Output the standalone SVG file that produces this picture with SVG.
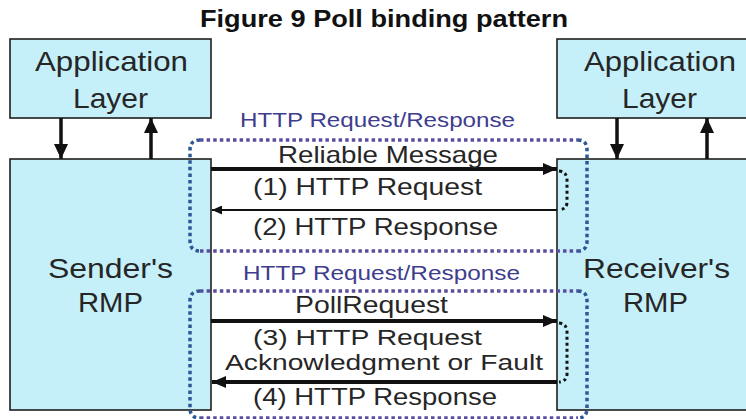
<svg xmlns="http://www.w3.org/2000/svg" width="746" height="419" viewBox="0 0 746 419">
  <style>
    .box { fill: #c5f0f9; stroke: #1e1e1e; stroke-width: 1.6; }
    .lbl { font-family: "Liberation Sans", Arial, sans-serif; fill: #262626; }
    .big { font-size: 28px; }
    .msg { font-size: 24px; }
    .tight { font-size: 22px; }
    .chan { font-family: "Liberation Sans", Arial, sans-serif; font-size: 21px; fill: #3e3d8e; }
    .title { font-family: "Liberation Sans", Arial, sans-serif; font-size: 24px; font-weight: bold; fill: #111; }
    .thick { stroke: #111; stroke-width: 4; fill: none; }
    .thin { stroke: #111; stroke-width: 2; fill: none; }
    .vert { stroke: #111; stroke-width: 3.5; fill: none; }
    .hdots { stroke: #5a4d9e; stroke-width: 3.5; stroke-dasharray: 3.5 3.1; fill: none; }
    .vdots { stroke: #2c5896; stroke-width: 3.5; stroke-dasharray: 3.5 3.1; fill: none; }
    .kdots { stroke: #141414; stroke-width: 3; stroke-dasharray: 3 3; fill: none; }
  </style>
  <defs>
    <marker id="head" viewBox="0 0 14 12" refX="14" refY="6" markerWidth="14" markerHeight="12" markerUnits="userSpaceOnUse" orient="auto">
      <path d="M0,0 L14,6 L0,12 z" fill="#111"/>
    </marker>
    <marker id="headTall" viewBox="0 0 15 14" refX="15" refY="7" markerWidth="15" markerHeight="14" markerUnits="userSpaceOnUse" orient="auto">
      <path d="M0,0 L15,7 L0,14 z" fill="#111"/>
    </marker>
    <marker id="headSmall" viewBox="0 0 10 9" refX="10" refY="4.5" markerWidth="10" markerHeight="9" markerUnits="userSpaceOnUse" orient="auto">
      <path d="M0,0 L10,4.5 L0,9 z" fill="#111"/>
    </marker>
  </defs>

  <rect width="746" height="419" fill="#ffffff"/>

  <text class="title" x="200" y="27" textLength="368" lengthAdjust="spacingAndGlyphs">Figure 9 Poll binding pattern</text>

  <!-- application layers -->
  <g id="sender-app">
    <rect class="box" x="10" y="39" width="201" height="79"/>
    <text class="lbl big" x="35" y="71" textLength="153" lengthAdjust="spacingAndGlyphs">Application</text>
    <text class="lbl big" x="73" y="108" textLength="75" lengthAdjust="spacingAndGlyphs">Layer</text>
  </g>
  <g id="receiver-app">
    <rect class="box" x="557" y="39" width="210" height="79"/>
    <text class="lbl big" x="584" y="71" textLength="152" lengthAdjust="spacingAndGlyphs">Application</text>
    <text class="lbl big" x="622" y="108" textLength="75" lengthAdjust="spacingAndGlyphs">Layer</text>
  </g>

  <!-- messaging processors -->
  <g id="sender-rmp">
    <rect class="box" x="10" y="159" width="201" height="251"/>
    <text class="lbl big" x="48" y="278" textLength="125" lengthAdjust="spacingAndGlyphs">Sender's</text>
    <text class="lbl big" x="78" y="312" textLength="65" lengthAdjust="spacingAndGlyphs">RMP</text>
  </g>
  <g id="receiver-rmp">
    <rect class="box" x="557" y="159" width="210" height="251"/>
    <text class="lbl big" x="583" y="278" textLength="147" lengthAdjust="spacingAndGlyphs">Receiver's</text>
    <text class="lbl big" x="623" y="312" textLength="65" lengthAdjust="spacingAndGlyphs">RMP</text>
  </g>

  <!-- HTTP request/response channels -->
  <g id="http-channels">
    <path class="hdots" d="M200 140 H578 M200 251 H578"/>
    <path class="vdots" d="M200 140 Q190 140 190 150 V241 Q190 251 200 251"/>
    <path class="vdots" d="M578 140 Q587 140 587 150 V241 Q587 251 578 251"/>
    <text class="chan" x="240" y="127" textLength="275" lengthAdjust="spacingAndGlyphs">HTTP Request/Response</text>

    <path class="hdots" d="M200 291 H578 M200 418 H578"/>
    <path class="vdots" d="M200 291 Q190 291 190 301 V408 Q190 418 200 418"/>
    <path class="vdots" d="M578 291 Q587 291 587 301 V408 Q587 418 578 418"/>
    <text class="chan" x="243" y="280" textLength="277" lengthAdjust="spacingAndGlyphs">HTTP Request/Response</text>

    <path class="kdots" d="M559 171 Q567 172 567 180 V202 Q567 209 559 210"/>
    <path class="kdots" d="M559 323 Q567 324 567 332 V374 Q567 381 559 382"/>
  </g>

  <!-- connectors -->
  <g id="connectors">
    <path class="vert" d="M61 118 V159" marker-end="url(#headTall)"/>
    <path class="vert" d="M151 159 V118" marker-end="url(#headTall)"/>
    <path class="vert" d="M617 118 V159" marker-end="url(#headTall)"/>
    <path class="vert" d="M707 159 V118" marker-end="url(#headTall)"/>

    <path class="thick" d="M211 169 H557" marker-end="url(#head)"/>
    <path class="thin" d="M557 210 H212" marker-end="url(#headSmall)"/>
    <path class="thick" d="M211 321 H557" marker-end="url(#head)"/>
    <path class="thick" d="M557 382 H212" marker-end="url(#head)"/>

    <text class="lbl msg" x="278" y="163" textLength="220" lengthAdjust="spacingAndGlyphs">Reliable Message</text>
    <text class="lbl msg" x="253" y="195" textLength="229" lengthAdjust="spacingAndGlyphs">(1) HTTP Request</text>
    <text class="lbl msg" x="253" y="235" textLength="245" lengthAdjust="spacingAndGlyphs">(2) HTTP Response</text>
    <text class="lbl msg" x="295" y="313" textLength="153" lengthAdjust="spacingAndGlyphs">PollRequest</text>
    <text class="lbl tight" x="253" y="345" textLength="229" lengthAdjust="spacingAndGlyphs">(3) HTTP Request</text>
    <text class="lbl tight" x="225" y="370" textLength="318" lengthAdjust="spacingAndGlyphs">Acknowledgment or Fault</text>
    <text class="lbl msg" x="253" y="405" textLength="244" lengthAdjust="spacingAndGlyphs">(4) HTTP Response</text>
  </g>
</svg>
